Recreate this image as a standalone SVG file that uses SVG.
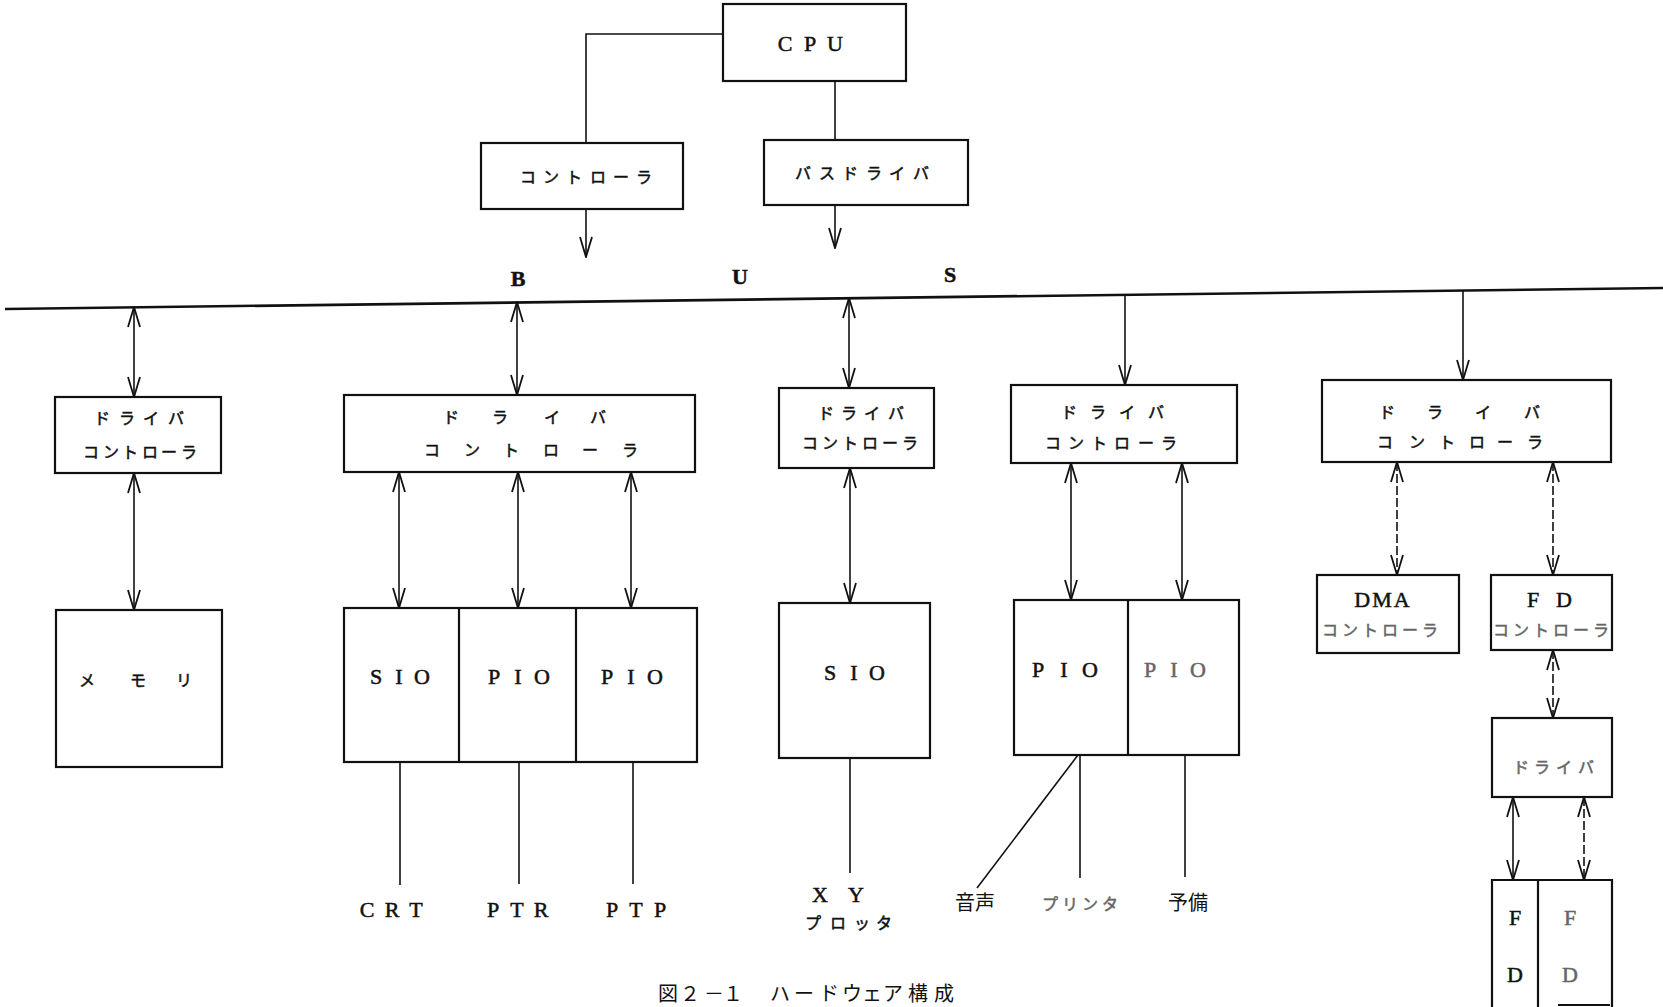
<svg xmlns="http://www.w3.org/2000/svg" width="1663" height="1007" viewBox="0 0 1663 1007">
<style>
.box{fill:none;stroke:#111;stroke-width:2.2}
.ln{fill:none;stroke:#111;stroke-width:1.6}
.dash{stroke-dasharray:9 3}
.bus{fill:none;stroke:#111;stroke-width:2.6}
.jp{font-family:"Noto Sans CJK JP","Noto Sans",sans-serif;font-size:16px;fill:#111;stroke:#111;stroke-width:0.5;text-anchor:middle}
.la{font-family:"Liberation Serif","Noto Sans CJK JP",serif;font-size:22px;fill:#111;stroke:#111;stroke-width:0.5;text-anchor:middle}
.jl{font-family:"Noto Sans CJK JP",sans-serif;font-size:20px;fill:#111;text-anchor:middle}
.faded{fill:#666;stroke:#666}
</style>
<defs>
<marker id="ah" viewBox="0 0 22 14" refX="21" refY="7" markerWidth="22" markerHeight="14" markerUnits="userSpaceOnUse" orient="auto-start-reverse">
<path d="M1,1 L21,7 L1,13" fill="none" stroke="#111" stroke-width="1.8"/>
</marker>
</defs>
<rect width="1663" height="1007" fill="#fff"/>

<g id="cpu">
<rect class="box" x="723" y="4" width="183" height="77"/>
<text class="la" x="785 810 835" y="51">CPU</text>
</g>
<g id="controller">
<rect class="box" x="481" y="143" width="202" height="66"/>
<text class="jp" x="528 551 574 598 621 644" y="183">コントローラ</text>
</g>
<g id="busdriver">
<rect class="box" x="764" y="140" width="204" height="65"/>
<text class="jp" x="803 827 850 874 897 921" y="179">バスドライバ</text>
</g>
<g id="bus">
<line class="bus" x1="5" y1="309" x2="1663" y2="288"/>
<text class="la" x="518" y="286" font-weight="bold">B</text>
<text class="la" x="740" y="284" font-weight="bold">U</text>
<text class="la" x="950" y="282" font-weight="bold">S</text>
</g>

<g id="driver1">
<rect class="box" x="55" y="397" width="166" height="76"/>
<text class="jp" x="102 127 151 176" y="424">ドライバ</text>
<text class="jp" x="91 111 130 150 169 189" y="458">コントローラ</text>
</g>
<g id="memory">
<rect class="box" x="56" y="610" width="166" height="157"/>
<text class="jp" x="87 138 184" y="686" font-size="17">メモリ</text>
</g>

<g id="driver2">
<rect class="box" x="344" y="395" width="351" height="77"/>
<text class="jp" x="451 500 552 598" y="423">ドライバ</text>
<text class="jp" x="432 472 511 551 590 630" y="456">コントローラ</text>
</g>
<g id="io2">
<rect class="box" x="344" y="608" width="353" height="154"/>
<line class="box" x1="459" y1="608" x2="459" y2="762"/>
<line class="box" x1="576" y1="608" x2="576" y2="762"/>
<text class="la" x="376 399 422" y="684">SIO</text>
<text class="la" x="494 518 542" y="684">PIO</text>
<text class="la" x="607 631 655" y="684">PIO</text>
</g>
<g id="crt"><text class="la" x="367 392 416" y="917">CRT</text></g>
<g id="ptr"><text class="la" x="493 517 541" y="917">PTR</text></g>
<g id="ptp"><text class="la" x="612 636 660" y="917">PTP</text></g>

<g id="driver3">
<rect class="box" x="779" y="388" width="155" height="80"/>
<text class="jp" x="826 849 872 896" y="419">ドライバ</text>
<text class="jp" x="810 830 850 870 890 910" y="449">コントローラ</text>
</g>
<g id="sio3">
<rect class="box" x="779" y="603" width="151" height="155"/>
<text class="la" x="830 854 877" y="680">SIO</text>
</g>
<g id="xyplotter">
<text class="la" x="820 856" y="902">XY</text>
<text class="jp" x="813 838 862 884" y="929">プロッタ</text>
</g>

<g id="driver4">
<rect class="box" x="1011" y="385" width="226" height="78"/>
<text class="jp" x="1069 1098 1127 1156" y="418">ドライバ</text>
<text class="jp" x="1053 1076 1099 1122 1146 1169" y="449">コントローラ</text>
</g>
<g id="io4">
<rect class="box" x="1014" y="600" width="225" height="155"/>
<line class="box" x1="1128" y1="600" x2="1128" y2="755"/>
<text class="la" x="1038 1064 1090" y="677">PIO</text>
<text class="la faded" x="1150 1174 1198" y="677">PIO</text>
</g>
<g id="voice"><text class="jl" x="975" y="910">音声</text></g>
<g id="printer"><text class="jp faded" x="1050 1070 1090 1110" y="910">プリンタ</text></g>
<g id="spare"><text class="jl" x="1188" y="910">予備</text></g>

<g id="driver5">
<rect class="box" x="1322" y="380" width="289" height="82"/>
<text class="jp" x="1387 1435 1483 1532" y="418">ドライバ</text>
<text class="jp" x="1385 1417 1447 1477 1505 1535" y="448">コントローラ</text>
</g>
<g id="dma">
<rect class="box" x="1317" y="575" width="142" height="78"/>
<text class="la" x="1383" y="607" letter-spacing="2">DMA</text>
<text class="jp faded" x="1330 1350 1370 1390 1410 1430" y="636" font-size="15">コントローラ</text>
</g>
<g id="fdcontroller">
<rect class="box" x="1491" y="575" width="121" height="75"/>
<text class="la" x="1533 1564" y="607">FD</text>
<text class="jp faded" x="1501 1521 1541 1561 1581 1601" y="636" font-size="15">コントローラ</text>
</g>
<g id="fddriver">
<rect class="box" x="1492" y="718" width="120" height="79"/>
<text class="jp faded" x="1521 1542 1564 1586" y="773" font-size="15">ドライバ</text>
</g>
<g id="fd">
<path class="box" d="M1492,1007 V880 H1612 V1007"/>
<line class="box" x1="1538" y1="880" x2="1538" y2="1007"/>
<line class="box" x1="1558" y1="1005" x2="1610" y2="1005"/>
<text class="la" x="1515" y="925">F</text>
<text class="la" x="1515" y="982">D</text>
<text class="la faded" x="1570" y="925">F</text>
<text class="la faded" x="1570" y="982">D</text>
</g>

<g id="caption">
<text class="jl" x="668 690 714 733 780 804 829 852 872 893 918 944" y="1001">図２－１ハードウェア構成</text>
</g>

<g id="connectors">
<polyline class="ln" points="723,34 586,34 586,143"/>
<line class="ln" x1="586" y1="209" x2="586" y2="257" marker-end="url(#ah)"/>
<line class="ln" x1="835" y1="81" x2="835" y2="140"/>
<line class="ln" x1="835" y1="205" x2="835" y2="248" marker-end="url(#ah)"/>

<line class="ln" x1="134" y1="307" x2="134" y2="397" marker-start="url(#ah)" marker-end="url(#ah)"/>
<line class="ln" x1="134" y1="473" x2="134" y2="610" marker-start="url(#ah)" marker-end="url(#ah)"/>

<line class="ln" x1="517" y1="302" x2="517" y2="395" marker-start="url(#ah)" marker-end="url(#ah)"/>
<line class="ln" x1="399" y1="472" x2="399" y2="608" marker-start="url(#ah)" marker-end="url(#ah)"/>
<line class="ln" x1="518" y1="472" x2="518" y2="608" marker-start="url(#ah)" marker-end="url(#ah)"/>
<line class="ln" x1="631" y1="472" x2="631" y2="608" marker-start="url(#ah)" marker-end="url(#ah)"/>
<line class="ln" x1="400" y1="762" x2="400" y2="885"/>
<line class="ln" x1="519" y1="762" x2="519" y2="884"/>
<line class="ln" x1="633" y1="762" x2="633" y2="884"/>

<line class="ln" x1="849" y1="298" x2="849" y2="388" marker-start="url(#ah)" marker-end="url(#ah)"/>
<line class="ln" x1="850" y1="468" x2="850" y2="603" marker-start="url(#ah)" marker-end="url(#ah)"/>
<line class="ln" x1="850" y1="758" x2="850" y2="873"/>

<line class="ln" x1="1125" y1="295" x2="1125" y2="385" marker-end="url(#ah)"/>
<line class="ln" x1="1071" y1="463" x2="1071" y2="600" marker-start="url(#ah)" marker-end="url(#ah)"/>
<line class="ln" x1="1182" y1="463" x2="1182" y2="600" marker-start="url(#ah)" marker-end="url(#ah)"/>
<line class="ln" x1="1080" y1="755" x2="1080" y2="878"/>
<line class="ln" x1="1185" y1="755" x2="1185" y2="877"/>
<line class="ln" x1="1078" y1="755" x2="977" y2="888"/>

<line class="ln" x1="1463" y1="291" x2="1463" y2="380" marker-end="url(#ah)"/>
<line class="ln dash" x1="1397" y1="462" x2="1397" y2="575" marker-start="url(#ah)" marker-end="url(#ah)"/>
<line class="ln dash" x1="1553" y1="462" x2="1553" y2="575" marker-start="url(#ah)" marker-end="url(#ah)"/>
<line class="ln dash" x1="1553" y1="650" x2="1553" y2="718" marker-start="url(#ah)" marker-end="url(#ah)"/>
<line class="ln" x1="1513" y1="797" x2="1513" y2="880" marker-start="url(#ah)" marker-end="url(#ah)"/>
<line class="ln dash" x1="1584" y1="797" x2="1584" y2="880" marker-start="url(#ah)" marker-end="url(#ah)"/>
</g>
</svg>
